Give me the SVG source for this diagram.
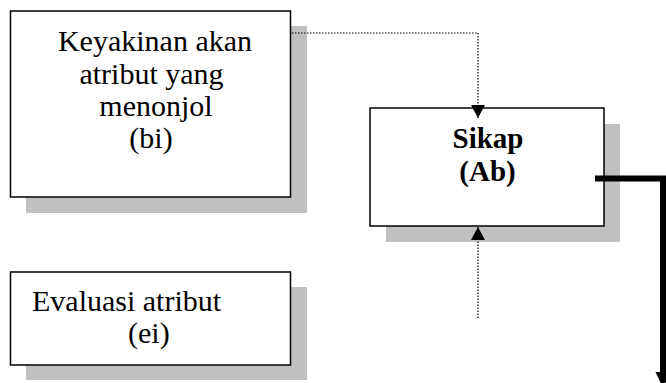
<svg xmlns="http://www.w3.org/2000/svg" width="666" height="383" viewBox="0 0 666 383">
<style>
.shadow{fill:#c0c0c0}
.box{fill:#fff;stroke:#000;stroke-width:1.5}
.t{font-family:"Liberation Serif","Times New Roman",serif;font-size:30px;fill:#000}
.b{font-weight:bold;font-size:29px}
.dot{fill:none;stroke:#000;stroke-width:1.2;stroke-dasharray:1.5 1.5}
</style>
<defs>
<marker id="ah" markerWidth="13" markerHeight="14" refX="13" refY="7" orient="auto" markerUnits="userSpaceOnUse">
<path d="M0,0 L13,7 L0,14 Z" fill="#000"/>
</marker>
</defs>
<rect width="666" height="383" fill="#fff"/>
<g id="node-keyakinan">
<rect class="shadow" x="26" y="26" width="281" height="187"/>
<rect class="box" x="10.5" y="11" width="280" height="186"/>
<text class="t" text-anchor="middle" x="155" y="51">Keyakinan akan</text>
<text class="t" text-anchor="middle" x="151.5" y="83.5">atribut yang</text>
<text class="t" text-anchor="middle" x="156" y="116">menonjol</text>
<text class="t" text-anchor="middle" x="151" y="148">(bi)</text>
</g>
<g id="node-sikap">
<rect class="shadow" x="386" y="124" width="234" height="118"/>
<rect class="box" x="370" y="108" width="234" height="118"/>
<text class="t b" text-anchor="middle" x="488" y="148">Sikap</text>
<text class="t b" text-anchor="middle" x="487.5" y="181">(Ab)</text>
</g>
<g id="node-evaluasi">
<rect class="shadow" x="26" y="287" width="281" height="93"/>
<rect class="box" x="10.5" y="272" width="280" height="93"/>
<text class="t" x="32" y="311">Evaluasi atribut</text>
<text class="t" x="128" y="343">(ei)</text>
</g>
<g id="connectors">
<path class="dot" d="M292,33 H478 V118" marker-end="url(#ah)"/>
<path class="dot" d="M478,318 V227" marker-end="url(#ah)"/>
<path d="M595,178.5 H663 V376" fill="none" stroke="#000" stroke-width="6"/>
<path d="M655.5,372 L670.5,372 L663,388 Z" fill="#000"/>
</g>
</svg>
